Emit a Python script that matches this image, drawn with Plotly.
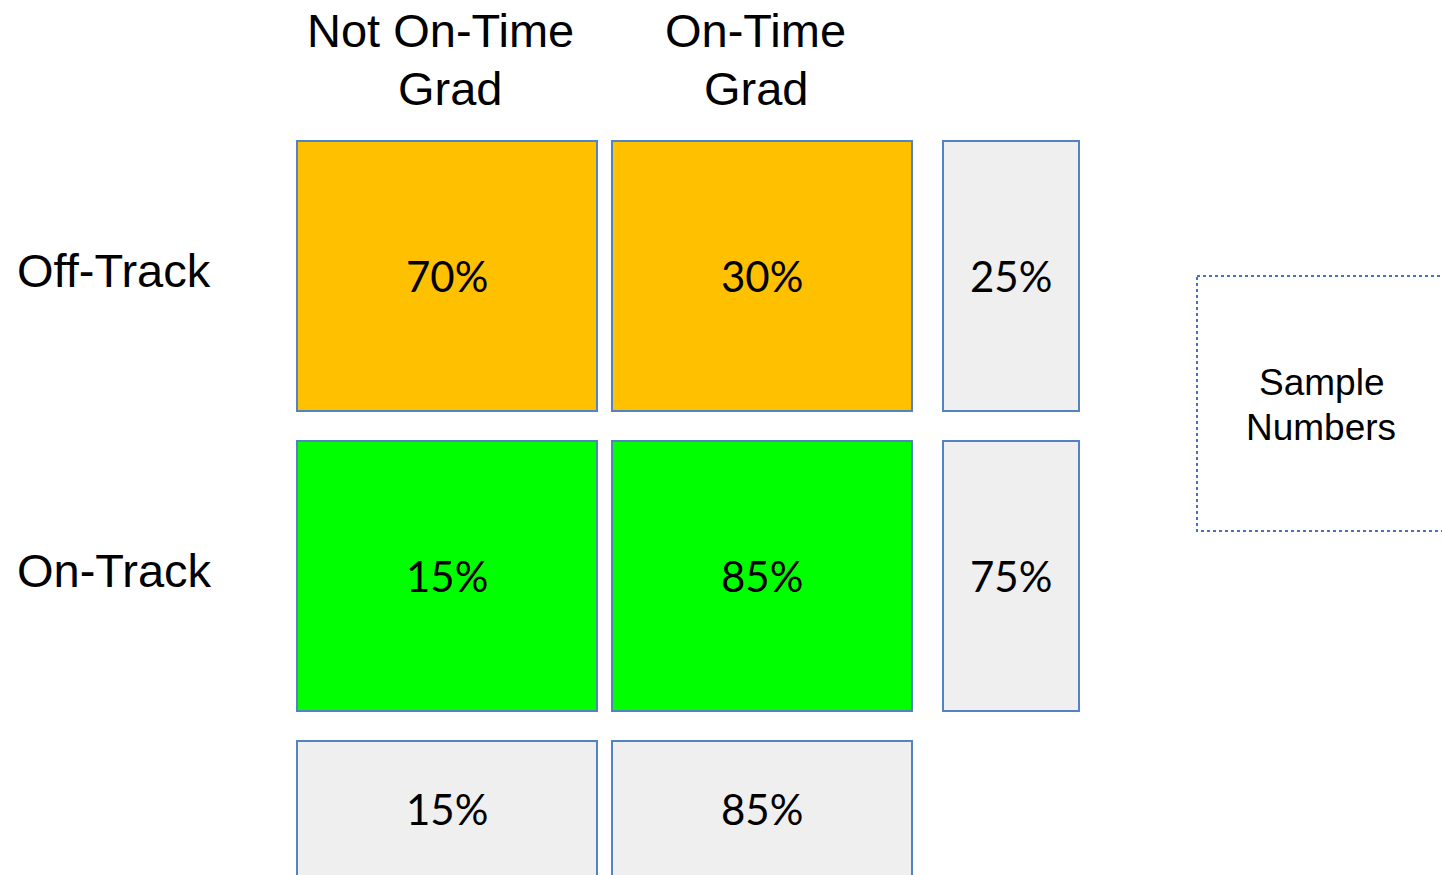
import plotly.graph_objects as go

# Row / column categories of the on-track matrix
row_labels = ["Off-Track", "On-Track"]
col_label_lines = [["Not On-Time", "Grad"], ["On-Time", "Grad"]]

# Percent of each row that falls in each column
cell_pct = [[70, 30],
            [15, 85]]
# Share of the sample in each row and in each column
row_share = [25, 75]
col_share = [15, 85]
side_note = ["Sample", "Numbers"]

# Styling
row_fill = ["#FFC000", "#00FF00"]
margin_fill = "#EFEFEF"
edge = "#5483C2"
W, H = 1442, 875

# Grid geometry (pixels)
col_x = [(297, 597), (612, 912)]
row_y = [(141, 411), (441, 711)]
side_x = (943, 1079)
foot_y = (741, 1011)
header_line_y = [30, 88]
header_line_x = [[440, 450], [755, 756]]
label_x = 15
note_box = (1197, 276, 1460, 531)
note_cx, note_line_y = 1321, [382, 427]

label_font = dict(family="Liberation Sans, Arial", size=47, color="black")
value_font = dict(family="Lato, Carlito, Calibri", size=42, color="black")
note_font = dict(family="Liberation Sans, Arial", size=37, color="black")

fig = go.Figure()
shapes, notes = [], []


def box(x0, y0, x1, y1, fill):
    shapes.append(dict(type="rect", xref="x", yref="y", x0=x0, y0=y0, x1=x1, y1=y1,
                       fillcolor=fill, line=dict(color=edge, width=2), layer="below"))


def label(x, y, text, font, xanchor="center"):
    notes.append(dict(x=x, y=y, xref="x", yref="y", text=text, showarrow=False,
                      xanchor=xanchor, yanchor="middle", font=font))


# Main 2x2 cells
for r, (y0, y1) in enumerate(row_y):
    for c, (x0, x1) in enumerate(col_x):
        box(x0, y0, x1, y1, row_fill[r])
        label((x0 + x1) / 2, (y0 + y1) / 2, f"{cell_pct[r][c]}%", value_font)
    # Row share on the right
    box(side_x[0], y0, side_x[1], y1, margin_fill)
    label((side_x[0] + side_x[1]) / 2, (y0 + y1) / 2, f"{row_share[r]}%", value_font)
    # Row label on the left
    label(label_x, (y0 + y1) / 2 - 6, row_labels[r], label_font, xanchor="left")

# Column shares along the bottom, headers along the top
for c, (x0, x1) in enumerate(col_x):
    box(x0, foot_y[0], x1, foot_y[1], margin_fill)
    label((x0 + x1) / 2, foot_y[0] + 68, f"{col_share[c]}%", value_font)
    for line, x, y in zip(col_label_lines[c], header_line_x[c], header_line_y):
        label(x, y, line, label_font)

# Dotted note box
shapes.append(dict(type="rect", xref="x", yref="y", x0=note_box[0], y0=note_box[1],
                   x1=note_box[2], y1=note_box[3], fillcolor="rgba(0,0,0,0)",
                   line=dict(color="#4472C4", width=2, dash="dot")))
for line, y in zip(side_note, note_line_y):
    label(note_cx, y, line, note_font)

fig.update_layout(
    width=W, height=H,
    margin=dict(l=0, r=0, t=0, b=0),
    paper_bgcolor="white", plot_bgcolor="white",
    shapes=shapes, annotations=notes,
    showlegend=False,
    xaxis=dict(range=[0, W], visible=False, fixedrange=True),
    yaxis=dict(range=[H, 0], visible=False, fixedrange=True),
)

fig.write_html("out.html", config={"displayModeBar": False})
